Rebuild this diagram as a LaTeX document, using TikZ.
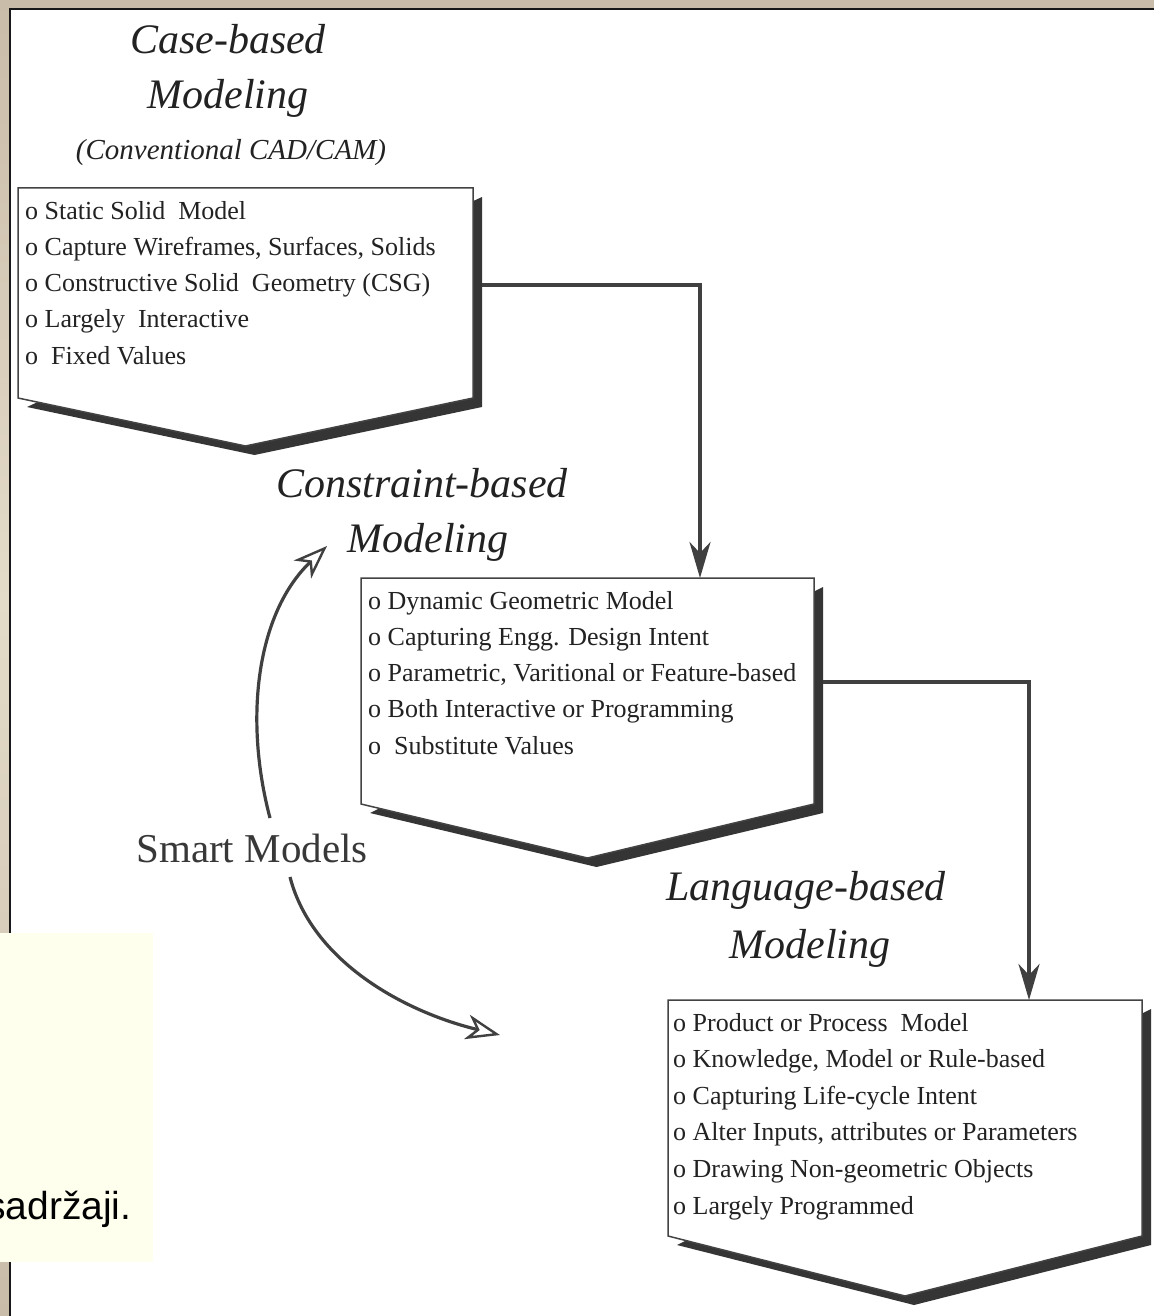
\documentclass[tikz,border=0pt]{standalone}
\usepackage{fontspec}
\setmainfont{Liberation Serif}
\newfontfamily\notefont{Liberation Sans}
\usetikzlibrary{arrows.meta,calc}

\definecolor{frametan}{HTML}{C9BCA8}
\definecolor{framelight}{HTML}{E4DBC9}
\definecolor{ink}{HTML}{222222}
\definecolor{shadowgrey}{HTML}{353535}
\definecolor{wire}{HTML}{404040}
\definecolor{notebg}{HTML}{FFFFEE}

\tikzset{
  heading/.style={font=\fontsize{42}{42}\selectfont\itshape, text=ink, inner sep=0pt, anchor=base},
  subheading/.style={font=\fontsize{29}{29}\selectfont\itshape, text=ink, inner sep=0pt, anchor=base},
  item/.style={font=\fontsize{26}{26}\selectfont, text=ink, inner sep=0pt, anchor=base west},
  boxframe/.style={anchor=north west, inner sep=0pt, outer sep=0pt},
  flow/.style={line width=3.4pt, draw=wire, -{Stealth[length=36pt,width=21pt,inset=11pt]}},
  smart/.style={line width=3.2pt, draw=wire, -{Stealth[open,length=34pt,width=25pt,inset=10pt,fill=white,line width=2.4pt]}},
}

% one model box: name, left, top, width, height, depth of the point
\newcommand{\modelpanel}[6]{%
  \node[boxframe, minimum width=#4pt, minimum height=#5pt] (#1) at (#2,#3) {};
  \fill[shadowgrey]
    ([shift={(9,9)}]#1.north east) -- ([shift={(9,9)}]#1.south east)
    -- ([shift={(9,9)}]$(#1.south)+(0,#6)$) -- ([shift={(9,9)}]#1.south west) -- cycle;
  \filldraw[fill=white, draw=ink!85, line width=1.5pt]
    (#1.north west) -- (#1.north east) -- (#1.south east)
    -- ($(#1.south)+(0,#6)$) -- (#1.south west) -- cycle;
}

\begin{document}
\begin{tikzpicture}[x=1pt,y=-1pt]
  \useasboundingbox (0,0) rectangle (1154,1316);

  % frame around the sheet
  \fill[frametan] (0,0) rectangle (1154,1316);
  \shade[top color=frametan, bottom color=framelight] (0,0) rectangle (10,600);
  \shade[top color=framelight, bottom color=frametan] (0,600) rectangle (10,1316);
  \fill[white] (10,9) rectangle (1154,1316);
  \draw[line width=2.4pt, black!90] (10,1316) -- (10,9) -- (1154,9);

  % model boxes
  \modelpanel{box1}{18}{188}{455}{210}{48}
  \modelpanel{box2}{361}{578}{453}{226}{54}
  \modelpanel{box3}{668}{1000}{474}{236}{60}

  % headings
  \node[heading] (t1a) at (228,54) {Case-based};
  \node[heading] (t1b) at (228,109) {Modeling};
  \node[subheading] (t1c) at (231,160) {(Conventional CAD/CAM)};
  \node[heading] (t2a) at (422,497) {Constraint-based};
  \node[heading] (t2b) at (428,552) {Modeling};
  \node[heading] (t3a) at (806,900) {Language-based};
  \node[heading] (t3b) at (810,958) {Modeling};

  % box contents
  \foreach \txt [count=\k] in {o Static Solid\ \ Model,
      {o Capture Wireframes, Surfaces, Solids},
      o Constructive Solid\ \ Geometry (CSG),
      o Largely\ \ Interactive,
      o\ \ Fixed Values}
    \node[item] (b1l\k) at (25,{219+36.3*(\k-1)}) {\txt};

  \foreach \txt [count=\k] in {o Dynamic Geometric Model,
      o Capturing Engg. Design Intent,
      {o Parametric, Varitional or Feature-based},
      o Both Interactive or Programming,
      o\ \ Substitute Values}
    \node[item] (b2l\k) at (368,{609+36.3*(\k-1)}) {\txt};

  \foreach \txt [count=\k] in {o Product or Process\ \ Model,
      {o Knowledge, Model or Rule-based},
      o Capturing Life-cycle Intent,
      {o Alter Inputs, attributes or Parameters},
      o Drawing Non-geometric Objects,
      o Largely Programmed}
    \node[item] (b3l\k) at (673,{1031+36.6*(\k-1)}) {\txt};

  % flow between the boxes
  \coordinate (b1port) at (482,285);
  \coordinate (b2drop) at (700,0);
  \coordinate (b2port) at (823,682);
  \coordinate (b3drop) at (1029,0);
  \draw[flow] (b1port) -| (b2drop |- box2.north);
  \draw[flow] (b2port) -| (b3drop |- box3.north);

  % smart models
  \node[font=\fontsize{41}{41}\selectfont, text=ink!90, inner sep=0pt, anchor=base] (smartlbl) at (252,862) {Smart Models};
  \coordinate (s1a) at (270,818);
  \coordinate (s1b) at (327,546);
  \coordinate (s2a) at (290,877);
  \coordinate (s2b) at (500,1035);
  \draw[smart] (s1a) .. controls (244,720) and (256,614) .. (s1b);
  \draw[smart] (s2a) .. controls (312,962) and (405,1012) .. (s2b);

  % note panel
  \fill[notebg] (0,933) rectangle (153,1262);
  \begin{scope}
    \clip (0,933) rectangle (153,1262);
    \node[font=\notefont\fontsize{39}{39}\selectfont, text=black, inner sep=0pt, anchor=base west] (note) at (-14,1219) {sadržaji.};
  \end{scope}
\end{tikzpicture}
\end{document}
